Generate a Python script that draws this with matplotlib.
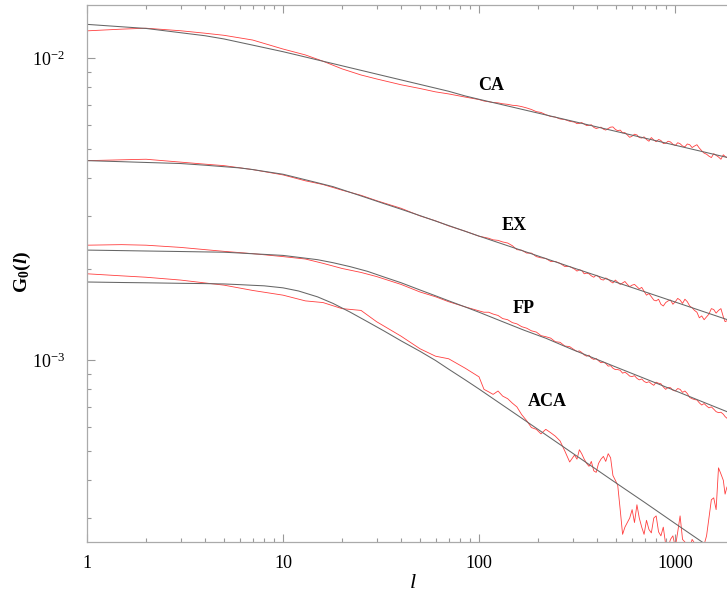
import matplotlib
matplotlib.use("Agg")
import matplotlib.pyplot as plt
from matplotlib.ticker import LogLocator, NullFormatter

plt.rcParams["font.family"] = "serif"
plt.rcParams["font.serif"] = ["Liberation Serif", "DejaVu Serif"]
plt.rcParams["mathtext.fontset"] = "custom"
plt.rcParams["mathtext.rm"] = "Liberation Serif"
plt.rcParams["mathtext.it"] = "Liberation Serif:italic"
plt.rcParams["mathtext.bf"] = "Liberation Serif:bold"
plt.rcParams["mathtext.bfit"] = "Liberation Serif:bold:italic"

# fitted (smooth) curves
l_fit = [1, 1.5, 2, 3, 4, 5, 6, 7, 8, 10, 12, 15, 18, 22, 27, 33, 40, 50, 60, 70, 85,
         100, 130, 170, 220, 300, 400, 500, 700, 1000, 1400, 1840]
ca_fit = [0.012912, 0.012679, 0.012517, 0.012117, 0.011841, 0.011553, 0.011262, 0.011023, 0.010819,
          0.010485, 0.010195, 0.009847, 0.009574, 0.009279, 0.008989, 0.008712, 0.008457, 0.008170,
          0.007943, 0.007755, 0.007483, 0.007296, 0.007011, 0.006731, 0.006472, 0.006174, 0.005910,
          0.005712, 0.005428, 0.005142, 0.004886, 0.004686]
ex_fit = [0.004571, 0.004535, 0.004508, 0.004472, 0.004415, 0.004365, 0.004325, 0.004271, 0.004214,
          0.004121, 0.004003, 0.003862, 0.003749, 0.003591, 0.003436, 0.003289, 0.003157, 0.003006,
          0.002885, 0.002787, 0.002668, 0.002572, 0.002429, 0.002291, 0.002165, 0.002023, 0.001901,
          0.001810, 0.001683, 0.001557, 0.001446, 0.001362]
fp_fit = [0.002312, 0.002303, 0.002296, 0.002287, 0.002280, 0.002275, 0.002261, 0.002248, 0.002238,
          0.002220, 0.002188, 0.002149, 0.002100, 0.002038, 0.001966, 0.001880, 0.001803, 0.001706,
          0.001632, 0.001571, 0.001499, 0.001440, 0.001345, 0.001255, 0.001180, 0.001083, 0.001005,
          0.000948, 0.000869, 0.000792, 0.000725, 0.000675]
aca_fit = [0.001813, 0.001806, 0.001802, 0.001795, 0.001791, 0.001786, 0.001777, 0.001768, 0.001761,
           0.001734, 0.001693, 0.001619, 0.001540, 0.001441, 0.001339, 0.001245, 0.001158, 0.001069,
           0.000997, 0.000933, 0.000860, 0.000802, 0.000714, 0.000634, 0.000565, 0.000492, 0.000433,
           0.000392, 0.000338, 0.000288, 0.000248, 0.000220]

# simulated (noisy) curves
l_sim = [1, 1.5, 2, 3, 4, 5, 7, 10, 13, 16, 20, 25, 30, 40, 50, 60, 70, 85,
         100, 106, 112, 118, 125, 132, 140, 148, 156, 165, 175, 185, 196, 207, 219, 232, 245, 259, 274, 290,
         307, 316, 325, 334, 344, 354, 364, 374, 385, 396, 407, 419, 431, 443, 456, 469, 482, 496, 510,
         525, 540, 555, 571, 587, 604, 621, 639, 657, 676, 695, 715, 736, 757, 779, 801, 824, 847, 871,
         896, 922, 948, 975, 1003, 1032, 1061, 1092, 1123, 1155, 1188, 1222, 1257, 1293, 1330, 1368,
         1407, 1448, 1489, 1532, 1575, 1620, 1666, 1714, 1763, 1800, 1840]
ca_sim = [0.01229, 0.01245, 0.01254, 0.01230, 0.01207, 0.01188, 0.01146, 0.01070, 0.01023, 0.00975,
          0.00920, 0.00878, 0.00852, 0.00815, 0.00792, 0.00772, 0.00760, 0.00742,
          0.00728, 0.00720, 0.00716, 0.00712, 0.00710, 0.00705, 0.00702, 0.00697, 0.00695, 0.00690,
          0.00683, 0.00675, 0.00664, 0.00660, 0.00649, 0.00640, 0.00637, 0.00628, 0.00625, 0.00617,
          0.00613, 0.00606, 0.00607, 0.00611, 0.00604, 0.00597, 0.00598, 0.00601, 0.00589, 0.00584,
          0.00587, 0.00590, 0.00581, 0.00577, 0.00584, 0.00590, 0.00591, 0.00580, 0.00574, 0.00577,
          0.00565, 0.00566, 0.00556, 0.00546, 0.00551, 0.00559, 0.00556, 0.00545, 0.00543, 0.00548,
          0.00537, 0.00530, 0.00545, 0.00535, 0.00528, 0.00537, 0.00533, 0.00521, 0.00522, 0.00530,
          0.00527, 0.00518, 0.00513, 0.00524, 0.00520, 0.00511, 0.00508, 0.00519, 0.00516, 0.00505,
          0.00511, 0.00516, 0.00503, 0.00493, 0.00484, 0.00480, 0.00473, 0.00468, 0.00482, 0.00476,
          0.00470, 0.00462, 0.00478, 0.00472, 0.00468]
ex_sim = [0.00457, 0.00460, 0.00462, 0.00452, 0.00445, 0.00440, 0.00427, 0.00410, 0.00392, 0.00381,
          0.00365, 0.00351, 0.00337, 0.00318, 0.00300, 0.00289, 0.00278, 0.00267,
          0.00257, 0.00255, 0.00253, 0.00250, 0.00249, 0.00246, 0.00244, 0.00239, 0.00232, 0.00231,
          0.00226, 0.00226, 0.00220, 0.00218, 0.00217, 0.00212, 0.00212, 0.00209, 0.00204, 0.00204,
          0.00200, 0.00197, 0.00199, 0.00198, 0.00193, 0.00194, 0.00193, 0.00190, 0.00188, 0.00191,
          0.00189, 0.00185, 0.00184, 0.00187, 0.00185, 0.00182, 0.00180, 0.00184, 0.00181, 0.00178,
          0.00180, 0.00182, 0.00178, 0.00175, 0.00177, 0.00178, 0.00175, 0.00172, 0.00174, 0.00169,
          0.00164, 0.00166, 0.00162, 0.00158, 0.00157, 0.00159, 0.00153, 0.00151, 0.00155, 0.00157,
          0.00158, 0.00153, 0.00156, 0.00160, 0.00158, 0.00154, 0.00159, 0.00156, 0.00151, 0.00149,
          0.00146, 0.00144, 0.00138, 0.00140, 0.00136, 0.00139, 0.00142, 0.00148, 0.00147, 0.00143,
          0.00146, 0.00148, 0.00139, 0.00134, 0.00135]
fp_sim = [0.00240, 0.00241, 0.00240, 0.00236, 0.00232, 0.00229, 0.00225, 0.00220, 0.00216, 0.00209,
          0.00201, 0.00195, 0.00189, 0.00178, 0.00168, 0.00162, 0.00156, 0.00150,
          0.001455, 0.001440, 0.001440, 0.001420, 0.001405, 0.001372, 0.001360, 0.001330, 0.001318,
          0.001290, 0.001275, 0.001250, 0.001238, 0.001205, 0.001195, 0.001182, 0.001150, 0.001145,
          0.001113, 0.001108,
          0.001080, 0.001068, 0.001072, 0.001060, 0.001040, 0.001030, 0.001038, 0.001015, 0.001005,
          0.001012, 0.000995, 0.000980, 0.000985, 0.000975, 0.000955, 0.000958, 0.000940, 0.000930,
          0.000930, 0.000925, 0.000905, 0.000912, 0.000900, 0.000885, 0.000882, 0.000888, 0.000870,
          0.000860, 0.000866, 0.000850, 0.000842, 0.000848, 0.000835, 0.000825, 0.000845, 0.000838,
          0.000835, 0.000815, 0.000800, 0.000812, 0.000810, 0.000795, 0.000790, 0.000805, 0.000800,
          0.000782, 0.000790, 0.000775, 0.000752, 0.000745, 0.000740, 0.000738, 0.000722, 0.000710,
          0.000718, 0.000705, 0.000695, 0.000700, 0.000688, 0.000675, 0.000670, 0.000672, 0.000662,
          0.000650, 0.000642]
aca_sim = [0.00193, 0.00190, 0.00188, 0.00184, 0.00180, 0.00177, 0.00170, 0.00164, 0.00157, 0.00155,
           0.00148, 0.00146, 0.00134, 0.00120, 0.00109, 0.00103, 0.00101, 0.00094,
           0.000880, 0.000800, 0.000785, 0.000770, 0.000790, 0.000760, 0.000745, 0.000720, 0.000700,
           0.000660, 0.000630, 0.000598, 0.000590, 0.000570, 0.000590, 0.000575, 0.000560, 0.000540,
           0.000500, 0.000460,
           0.000485, 0.000470, 0.000505, 0.000490, 0.000470, 0.000455, 0.000445, 0.000462, 0.000430,
           0.000425, 0.000455, 0.000470, 0.000480, 0.000462, 0.000490, 0.000475, 0.000415, 0.000400,
           0.000385, 0.000320, 0.000265, 0.000280, 0.000290, 0.000300, 0.000320, 0.000290, 0.000332,
           0.000300, 0.000280, 0.000265, 0.000295, 0.000275, 0.000268, 0.000300, 0.000305, 0.000270,
           0.000262, 0.000280, 0.000245, 0.000240, 0.000255, 0.000262, 0.000240, 0.000270, 0.000305,
           0.000255, 0.000250, 0.000240, 0.000238, 0.000255, 0.000248, 0.000236, 0.000240, 0.000238,
           0.000245, 0.000262, 0.000300, 0.000345, 0.000350, 0.000320, 0.000440, 0.000420, 0.000400,
           0.000360, 0.000380]

names = ["CA", "EX", "FP", "ACA"]
label_pos = [(115, 0.00808), (151, 0.00278), (168, 0.001476), (224, 0.000731)]

fig = plt.figure(figsize=(7.27, 5.94), dpi=100)
ax = fig.add_axes([87 / 727, 52 / 594, 1 - 87 / 727, (542 - 4.7) / 594])

for ys in [ca_sim, ex_sim, fp_sim, aca_sim]:
    ax.plot(l_sim, ys, color="#ff2a2a", lw=0.6, alpha=0.9)
for ys in [ca_fit, ex_fit, fp_fit, aca_fit]:
    ax.plot(l_fit, ys, color="#666666", lw=0.75)

for name, (x, y) in zip(names, label_pos):
    ax.text(x, y, name, fontsize=13, fontweight="bold", ha="center", va="center")

ax.set_xscale("log")
ax.set_yscale("log")
ax.set_xlim(1, 1841)
ax.set_ylim(2.5e-4, 1.5e-2)

ax.set_xticks([1, 10, 100, 1000])
ax.set_xticklabels(["1", "10", "100", "1000"])
ax.xaxis.set_minor_locator(LogLocator(base=10, subs=range(2, 10), numticks=20))
ax.xaxis.set_minor_formatter(NullFormatter())
ax.set_yticks([1e-3, 1e-2])
ax.set_yticklabels([r"$10^{-3}$", r"$10^{-2}$"])
ax.yaxis.set_minor_locator(LogLocator(base=10, subs=range(2, 10), numticks=20))
ax.yaxis.set_minor_formatter(NullFormatter())

ax.tick_params(which="both", direction="in", color="#999999", width=0.8, labelsize=13)
ax.tick_params(axis="x", which="both", top=True, bottom=True, pad=9)
ax.tick_params(axis="y", which="both", left=True, right=False, pad=16)
ax.tick_params(which="major", length=6)
ax.tick_params(which="minor", length=3)
for side in ["left", "bottom", "top"]:
    ax.spines[side].set_color("#aaaaaa")
    ax.spines[side].set_linewidth(0.9)
ax.spines["right"].set_visible(False)

fig.text(22 / 727, 1 - 272 / 594, r"$\mathbf{G_0(}\mathbfit{l}\mathbf{)}$", rotation=90,
         fontsize=14, ha="center", va="center")
fig.text(413 / 727, 1 - 583 / 594, "l", style="italic", fontsize=16, ha="center", va="center")

fig.savefig("out.png", dpi=100)
